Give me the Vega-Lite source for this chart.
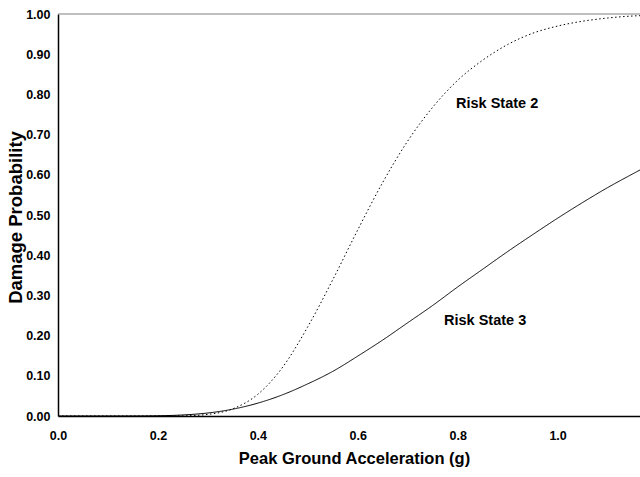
{
  "$schema": "https://vega.github.io/schema/vega-lite/v6.json",
  "width": 582,
  "height": 402,
  "autosize": {"type": "none"},
  "padding": {"left": 58, "top": 14, "right": 0, "bottom": 61},
  "background": "white",
  "config": {
    "view": {"stroke": null},
    "font": "Liberation Sans",
    "axis": {"grid": false, "ticks": false, "domainColor": "black", "domainWidth": 1.5, "labelFont": "Liberation Sans", "labelFontWeight": "bold", "labelFontSize": 12.5, "labelColor": "black", "titleFont": "Liberation Sans", "titleFontWeight": "bold", "titleColor": "black"}
  },
  "layer": [
    {
      "data": {"values": [{"v": 1}]},
      "mark": {"type": "rule", "color": "#808080", "strokeWidth": 1.2},
      "encoding": {"y": {"datum": 1, "type": "quantitative", "scale": {"domain": [0, 1]}}}
    },
    {
      "data": {"values": [
        {"pga": 0.0, "prob": 0.0, "state": "Risk State 2"},
        {"pga": 0.2, "prob": 0.0, "state": "Risk State 2"},
        {"pga": 0.25, "prob": 0.0004, "state": "Risk State 2"},
        {"pga": 0.3, "prob": 0.004, "state": "Risk State 2"},
        {"pga": 0.35, "prob": 0.018, "state": "Risk State 2"},
        {"pga": 0.4, "prob": 0.054, "state": "Risk State 2"},
        {"pga": 0.45, "prob": 0.122, "state": "Risk State 2"},
        {"pga": 0.5, "prob": 0.222, "state": "Risk State 2"},
        {"pga": 0.55, "prob": 0.339, "state": "Risk State 2"},
        {"pga": 0.6, "prob": 0.463, "state": "Risk State 2"},
        {"pga": 0.65, "prob": 0.581, "state": "Risk State 2"},
        {"pga": 0.7, "prob": 0.684, "state": "Risk State 2"},
        {"pga": 0.75, "prob": 0.768, "state": "Risk State 2"},
        {"pga": 0.8, "prob": 0.835, "state": "Risk State 2"},
        {"pga": 0.85, "prob": 0.885, "state": "Risk State 2"},
        {"pga": 0.9, "prob": 0.924, "state": "Risk State 2"},
        {"pga": 0.95, "prob": 0.952, "state": "Risk State 2"},
        {"pga": 1.0, "prob": 0.970, "state": "Risk State 2"},
        {"pga": 1.05, "prob": 0.982, "state": "Risk State 2"},
        {"pga": 1.1, "prob": 0.990, "state": "Risk State 2"},
        {"pga": 1.15, "prob": 0.995, "state": "Risk State 2"},
        {"pga": 1.2, "prob": 0.997, "state": "Risk State 2"},
        {"pga": 0.0, "prob": 0.0, "state": "Risk State 3"},
        {"pga": 0.15, "prob": 0.0001, "state": "Risk State 3"},
        {"pga": 0.2, "prob": 0.0006, "state": "Risk State 3"},
        {"pga": 0.25, "prob": 0.0026, "state": "Risk State 3"},
        {"pga": 0.3, "prob": 0.0075, "state": "Risk State 3"},
        {"pga": 0.35, "prob": 0.017, "state": "Risk State 3"},
        {"pga": 0.4, "prob": 0.032, "state": "Risk State 3"},
        {"pga": 0.45, "prob": 0.053, "state": "Risk State 3"},
        {"pga": 0.5, "prob": 0.080, "state": "Risk State 3"},
        {"pga": 0.55, "prob": 0.111, "state": "Risk State 3"},
        {"pga": 0.6, "prob": 0.149, "state": "Risk State 3"},
        {"pga": 0.65, "prob": 0.189, "state": "Risk State 3"},
        {"pga": 0.7, "prob": 0.232, "state": "Risk State 3"},
        {"pga": 0.75, "prob": 0.275, "state": "Risk State 3"},
        {"pga": 0.8, "prob": 0.321, "state": "Risk State 3"},
        {"pga": 0.85, "prob": 0.365, "state": "Risk State 3"},
        {"pga": 0.9, "prob": 0.409, "state": "Risk State 3"},
        {"pga": 0.95, "prob": 0.451, "state": "Risk State 3"},
        {"pga": 1.0, "prob": 0.492, "state": "Risk State 3"},
        {"pga": 1.05, "prob": 0.531, "state": "Risk State 3"},
        {"pga": 1.1, "prob": 0.568, "state": "Risk State 3"},
        {"pga": 1.15, "prob": 0.602, "state": "Risk State 3"},
        {"pga": 1.2, "prob": 0.635, "state": "Risk State 3"}
      ]},
      "mark": {"type": "line", "color": "black", "strokeWidth": 1, "clip": true, "interpolate": "monotone"},
      "encoding": {
        "x": {"field": "pga", "type": "quantitative", "scale": {"domain": [0, 1.165], "nice": false},
          "axis": {"title": "Peak Ground Acceleration (g)", "titleFontSize": 16.5, "values": [0, 0.2, 0.4, 0.6, 0.8, 1.0], "format": ".1f", "labelPadding": 13, "titlePadding": 9, "labelFlush": false, "titleX": 296}},
        "y": {"field": "prob", "type": "quantitative", "scale": {"domain": [0, 1], "nice": false},
          "axis": {"title": "Damage Probability", "titleFontSize": 18.5, "values": [0, 0.1, 0.2, 0.3, 0.4, 0.5, 0.6, 0.7, 0.8, 0.9, 1.0], "format": ".2f", "labelPadding": 8, "titleX": -43, "titleY": 203, "titleAngle": -90, "titleAlign": "center", "titleBaseline": "middle", "labelFlush": false}},
        "strokeDash": {"field": "state", "type": "nominal", "scale": {"domain": ["Risk State 2", "Risk State 3"], "range": [[1.5, 2.5], [1, 0]]}, "legend": null},
        "detail": {"field": "state"}
      }
    },
    {
      "data": {"values": [
        {"pga": 0.879, "prob": 0.776, "label": "Risk State 2"},
        {"pga": 0.855, "prob": 0.236, "label": "Risk State 3"}
      ]},
      "mark": {"type": "text", "font": "Liberation Sans", "fontWeight": "bold", "fontSize": 14.5, "color": "black", "align": "center", "baseline": "middle"},
      "encoding": {
        "x": {"field": "pga", "type": "quantitative"},
        "y": {"field": "prob", "type": "quantitative"},
        "text": {"field": "label"}
      }
    }
  ]
}
